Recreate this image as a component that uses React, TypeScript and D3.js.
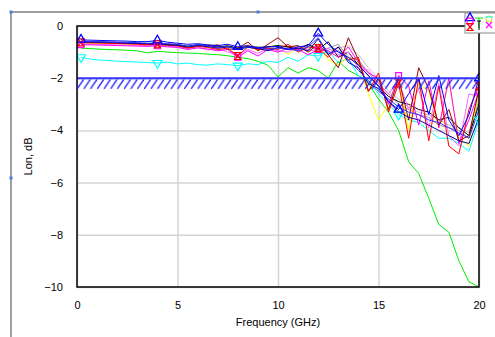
import { useEffect, useRef } from 'react';
import * as d3 from 'd3';

// frequency points (GHz)
const freqs = [0.2, 0.5, 1, 1.5, 2, 2.5, 3, 3.5, 4, 4.5, 5, 5.5, 6, 6.5, 7, 7.5, 8, 8.5, 9, 9.5, 10,
  10.5, 11, 11.5, 12, 12.5, 13, 13.5, 14, 14.5, 15, 15.5, 16, 16.5, 17, 17.5, 18, 18.5, 19, 19.5, 20];

const blue1 = [-0.52, -0.54, -0.55, -0.56, -0.57, -0.58, -0.6, -0.6, -0.55, -0.62, -0.66, -0.7, -0.68, -0.72, -0.75, -0.7, -0.8, -0.75, -0.85, -0.8, -0.78,
  -0.9, -0.8, -0.75, -0.28, -0.7, -1.0, -1.2, -1.5, -1.9, -2.3, -2.9, -3.2, -2.6, -2.0, -3.4, -1.9, -3.6, -4.2, -3.4, -2.0];
const blue2 = [-0.58, -0.59, -0.6, -0.61, -0.62, -0.63, -0.64, -0.66, -0.65, -0.68, -0.7, -0.78, -0.72, -0.76, -0.82, -0.78, -0.9, -0.8, -0.82, -0.9, -0.85,
  -0.88, -0.95, -0.8, -0.45, -1.05, -0.95, -1.3, -1.7, -2.1, -2.5, -2.8, -3.1, -3.3, -3.4, -3.6, -3.7, -3.9, -4.1, -4.3, -3.2];
const navy = [-0.6, -0.61, -0.62, -0.63, -0.64, -0.66, -0.67, -0.68, -0.7, -0.72, -0.74, -0.8, -0.75, -0.78, -0.85, -0.8, -0.88, -0.82, -0.86, -0.95, -0.82,
  -0.9, -0.85, -0.95, -0.5, -1.1, -0.8, -1.4, -1.6, -2.2, -2.4, -2.9, -3.3, -3.5, -3.6, -3.8, -4.0, -4.2, -4.4, -4.5, -3.5];
const darkred = [-0.62, -0.62, -0.63, -0.64, -0.65, -0.66, -0.67, -0.7, -0.68, -0.7, -0.72, -0.82, -0.74, -0.78, -0.72, -0.9, -0.85, -0.62, -0.95, -0.7, -0.45,
  -0.8, -0.75, -1.0, -0.7, -1.1, -1.6, -0.45, -1.3, -2.5, -2.0, -3.2, -2.0, -3.6, -1.6, -2.4, -3.8, -3.2, -4.4, -4.2, -2.4];
const red = [-0.63, -0.64, -0.65, -0.66, -0.67, -0.68, -0.7, -0.72, -0.7, -0.74, -0.76, -0.85, -0.78, -0.82, -0.9, -0.85, -1.15, -0.8, -0.9, -0.85, -0.9,
  -0.7, -1.0, -0.8, -0.85, -1.2, -0.8, -1.3, -1.2, -2.5, -1.8, -3.3, -2.2, -4.3, -2.0, -4.4, -2.3, -4.6, -4.9, -3.2, -2.3];
const magenta = [-0.72, -0.72, -0.73, -0.74, -0.75, -0.76, -0.77, -0.78, -0.76, -0.8, -0.82, -0.9, -0.84, -0.88, -0.95, -0.9, -1.2, -0.95, -1.15, -0.9, -1.0,
  -0.85, -0.9, -1.1, -0.9, -0.95, -1.2, -0.8, -1.4, -1.8, -2.0, -3.0, -1.9, -2.3, -3.8, -2.1, -3.9, -2.0, -4.5, -3.6, -2.5];
const pink = [-0.68, -0.69, -0.7, -0.71, -0.72, -0.73, -0.74, -0.76, -0.74, -0.78, -0.8, -0.86, -0.8, -0.92, -0.85, -1.0, -1.1, -0.9, -1.05, -0.85, -0.95,
  -1.0, -0.8, -0.9, -1.0, -0.85, -1.1, -1.0, -1.6, -1.7, -2.2, -2.6, -2.1, -3.2, -2.4, -3.9, -2.2, -4.2, -4.6, -2.6, -2.7];
const black = [-0.6, -0.6, -0.61, -0.62, -0.63, -0.64, -0.66, -0.68, -0.66, -0.7, -0.72, -0.78, -0.72, -0.75, -0.8, -0.76, -0.85, -0.78, -0.82, -0.8, -0.75,
  -0.8, -0.9, -0.7, -0.9, -0.6, -1.2, -1.0, -1.5, -1.9, -2.3, -2.7, -2.9, -3.0, -3.2, -3.3, -3.6, -3.5, -3.9, -4.2, -3.0];
const gray = [-0.64, -0.64, -0.65, -0.66, -0.67, -0.68, -0.69, -0.7, -0.7, -0.72, -0.74, -0.78, -0.75, -0.8, -0.82, -0.8, -0.86, -0.8, -0.84, -0.8, -0.78,
  -0.82, -0.85, -0.78, -0.95, -0.85, -0.7, -1.2, -1.3, -1.8, -2.2, -2.6, -3.0, -3.2, -3.4, -3.5, -3.8, -3.9, -4.0, -4.3, -2.8];
const silver = [-0.62, -0.63, -0.64, -0.65, -0.66, -0.67, -0.68, -0.69, -0.68, -0.7, -0.72, -0.76, -0.74, -0.78, -0.8, -0.82, -0.84, -0.82, -0.8, -0.85, -0.8,
  -0.78, -0.8, -0.85, -0.8, -0.9, -0.85, -0.75, -1.1, -1.6, -2.0, -2.5, -2.8, -3.1, -3.3, -3.4, -3.6, -3.8, -3.9, -4.1, -2.6];
const yellow = [-0.65, -0.66, -0.67, -0.68, -0.69, -0.7, -0.71, -0.73, -0.72, -0.75, -0.78, -0.82, -0.8, -0.7, -0.85, -0.75, -0.9, -0.72, -0.95, -0.8, -0.75,
  -1.1, -0.8, -0.9, -0.7, -1.3, -1.5, -1.2, -1.4, -2.6, -3.6, -3.0, -2.0, -4.0, -2.2, -2.5, -3.9, -2.1, -4.3, -4.6, -2.4];
const green = [-0.85, -0.86, -0.88, -0.9, -0.91, -0.93, -0.95, -1.03, -0.97, -1.0, -1.02, -1.04, -1.05, -1.08, -1.1, -1.14, -1.2, -1.25, -1.35, -1.5, -1.95,
  -1.6, -1.8, -1.6, -1.7, -2.0, -1.35, -1.7, -1.9, -2.2, -2.8, -3.3, -4.0, -5.2, -5.65, -6.6, -7.6, -7.9, -9.0, -9.8, -10.0];
const cyan = [-1.2, -1.25, -1.3, -1.32, -1.35, -1.37, -1.38, -1.4, -1.42, -1.38, -1.45, -1.42, -1.48, -1.5, -1.45, -1.48, -1.52, -1.45, -1.48, -1.35, -1.4,
  -1.2, -1.35, -1.1, -1.15, -0.95, -1.4, -1.25, -1.9, -2.1, -2.6, -3.0, -3.4, -3.6, -3.7, -4.0, -4.3, -4.3, -4.5, -4.8, -3.6];

const series = [
  { name: 'green', color: '#00ee00', values: green, marker: '' },
  { name: 'cyan', color: '#00ffff', values: cyan, marker: 'down' },
  { name: 'silver', color: '#c0c0c0', values: silver, marker: '' },
  { name: 'gray', color: '#999999', values: gray, marker: '' },
  { name: 'yellow', color: '#ffff00', values: yellow, marker: '' },
  { name: 'black', color: '#000000', values: black, marker: '' },
  { name: 'pink', color: '#ff66ff', values: pink, marker: '' },
  { name: 'magenta', color: '#ff00ff', values: magenta, marker: 'square' },
  { name: 'darkred', color: '#990000', values: darkred, marker: '' },
  { name: 'red', color: '#ff0000', values: red, marker: 'hourglass' },
  { name: 'navy', color: '#000099', values: navy, marker: '' },
  { name: 'blue2', color: '#3333ff', values: blue2, marker: '' },
  { name: 'blue1', color: '#0000ff', values: blue1, marker: 'up' },
];

const xTicks = [0, 5, 10, 15, 20];
const yTicks = [0, -2, -4, -6, -8, -10];
const specLimit = -2;
const specBand = -2.42;
const markerFreqs = [0.2, 4, 8, 12, 16, 20];

const W = 495;
const H = 337;

const App = () => {
  const ref = useRef<SVGSVGElement>(null);

  useEffect(() => {
    const svg = d3.select(ref.current);
    svg.selectAll('*').remove();

    const margin = { top: 26, right: 16, bottom: 50, left: 77 };
    const width = W - margin.left - margin.right;
    const height = 287 - margin.top;

    const x = d3.scaleLinear().domain([0, 20]).range([0, width]);
    const y = d3.scaleLinear().domain([-10, 0]).range([height, 0]);

    // hatch pattern for spec band
    const defs = svg.append('defs');
    const pat = defs.append('pattern')
      .attr('id', 'hatch')
      .attr('patternUnits', 'userSpaceOnUse')
      .attr('x', margin.left)
      .attr('y', margin.top + y(specLimit) + 1)
      .attr('width', 6.7)
      .attr('height', 10);
    pat.append('line')
      .attr('x1', 0).attr('y1', 10).attr('x2', 6.7).attr('y2', 0)
      .attr('stroke', '#2222ff').attr('stroke-width', 1.3);
    defs.append('clipPath').attr('id', 'plotclip')
      .append('rect').attr('width', width).attr('height', height);

    // outer frame (chart object border)
    svg.append('line').attr('x1', 10).attr('y1', 12).attr('x2', W).attr('y2', 12)
      .attr('stroke', '#808080').attr('stroke-width', 1.5);
    svg.append('line').attr('x1', 11).attr('y1', 12).attr('x2', 11).attr('y2', H)
      .attr('stroke', '#808080').attr('stroke-width', 1.5);
    [[11, 12], [258, 12], [11, 178]].forEach(([hx, hy]) => {
      svg.append('rect').attr('x', hx - 1.5).attr('y', hy - 1.5).attr('width', 3).attr('height', 3)
        .attr('fill', '#4a7fd8');
    });

    const g = svg.append('g').attr('transform', `translate(${margin.left},${margin.top})`);

    // gridlines
    g.append('g')
      .call(d3.axisBottom(x).tickValues(xTicks).tickSize(height).tickFormat(() => ''))
      .call(s => s.select('.domain').remove())
      .call(s => s.selectAll('.tick line').attr('stroke', '#d4d4d4').attr('stroke-width', 1.5));
    g.append('g')
      .call(d3.axisLeft(y).tickValues(yTicks).tickSize(-width).tickFormat(() => ''))
      .call(s => s.select('.domain').remove())
      .call(s => s.selectAll('.tick line').attr('stroke', '#d4d4d4').attr('stroke-width', 1.5));

    // tick labels
    g.append('g')
      .attr('transform', `translate(0,${height})`)
      .call(d3.axisBottom(x).tickValues(xTicks).tickSize(0).tickPadding(14))
      .call(s => s.select('.domain').remove())
      .call(s => s.selectAll('text')
        .style('font-family', 'Liberation Sans, Arial, sans-serif')
        .style('font-size', '11px')
        .attr('fill', '#000'));
    g.append('g')
      .call(d3.axisLeft(y).tickValues(yTicks).tickSize(0).tickPadding(14))
      .call(s => s.select('.domain').remove())
      .call(s => s.selectAll('text')
        .style('font-family', 'Liberation Sans, Arial, sans-serif')
        .style('font-size', '11px')
        .attr('fill', '#000'));

    // spec band
    svg.append('rect')
      .attr('x', margin.left).attr('y', margin.top + y(specLimit) + 1)
      .attr('width', width).attr('height', y(specBand) - y(specLimit) - 1)
      .attr('fill', 'url(#hatch)');

    const plot = g.append('g').attr('clip-path', 'url(#plotclip)');

    const line = d3.line<number>()
      .x((_, i) => x(freqs[i]))
      .y(d => y(d));

    series.forEach(s => {
      plot.append('path')
        .attr('d', line(s.values))
        .attr('fill', 'none')
        .attr('stroke', s.color)
        .attr('stroke-width', 1);
    });

    // markers
    const drawMarker = (sel: any, kind: string, color: string, cx: number, cy: number) => {
      if (kind === 'up') {
        sel.append('path').attr('d', d3.symbol(d3.symbolTriangle, 34)())
          .attr('transform', `translate(${cx},${cy})`)
          .attr('fill', 'none').attr('stroke', color).attr('stroke-width', 1.3);
      } else if (kind === 'down') {
        sel.append('path').attr('d', d3.symbol(d3.symbolTriangle, 34)())
          .attr('transform', `translate(${cx},${cy}) rotate(180)`)
          .attr('fill', 'none').attr('stroke', color).attr('stroke-width', 1.2);
      } else if (kind === 'square') {
        sel.append('path').attr('d', d3.symbol(d3.symbolSquare, 34)())
          .attr('transform', `translate(${cx},${cy})`)
          .attr('fill', 'none').attr('stroke', color).attr('stroke-width', 1.2);
      } else if (kind === 'hourglass') {
        sel.append('path').attr('d', 'M-3,-3.5L3,-3.5L-3,3.5L3,3.5Z')
          .attr('transform', `translate(${cx},${cy})`)
          .attr('fill', 'none').attr('stroke', color).attr('stroke-width', 1.2);
      }
    };

    series.filter(s => s.marker).forEach(s => {
      markerFreqs.forEach(f => {
        const i = freqs.indexOf(f);
        if (i < 0) return;
        drawMarker(plot, s.marker, s.color, x(freqs[i]), y(s.values[i]));
      });
    });

    // spec line
    g.append('line')
      .attr('x1', 0).attr('x2', width)
      .attr('y1', y(specLimit)).attr('y2', y(specLimit))
      .attr('stroke', '#3333ff').attr('stroke-width', 2);

    // plot frame
    g.append('rect')
      .attr('width', width).attr('height', height)
      .attr('fill', 'none').attr('stroke', '#000').attr('stroke-width', 1.5);

    // axis titles
    g.append('text')
      .attr('x', width / 2).attr('y', height + 39)
      .attr('text-anchor', 'middle')
      .style('font-family', 'Liberation Sans, Arial, sans-serif')
      .style('font-size', '11px')
      .text('Frequency (GHz)');
    g.append('text')
      .attr('transform', 'rotate(-90)')
      .attr('x', -height / 2).attr('y', -45)
      .attr('text-anchor', 'middle')
      .style('font-family', 'Liberation Sans, Arial, sans-serif')
      .style('font-size', '11px')
      .text('Lon, dB');

    // legend box (partly outside window)
    const lg = svg.append('g').attr('transform', 'translate(465,13)');
    lg.append('rect').attr('width', 40).attr('height', 20)
      .attr('fill', '#fff').attr('stroke', '#888').attr('stroke-width', 1);
    drawMarker(lg, 'up', '#0000ff', 5, 5);
    drawMarker(lg, 'square', '#ff00ff', 5, 8);
    drawMarker(lg, 'hourglass', '#ff0000', 5, 14);
    lg.append('path').attr('d', 'M10,5L18,5M14,5L14,15').attr('stroke', '#00ee00').attr('stroke-width', 1);
    lg.append('path').attr('d', 'M12,8L16,8M14,8L14,17').attr('stroke', '#000').attr('stroke-width', 1);
    lg.append('circle').attr('cx', 24).attr('cy', 6).attr('r', 3).attr('fill', 'none').attr('stroke', '#dddd00');
    lg.append('path').attr('d', 'M21,9L27,15M27,9L21,15').attr('stroke', '#ff00ff').attr('stroke-width', 1.2);
    lg.append('path').attr('d', 'M20,4L28,4').attr('stroke', '#00ffff').attr('stroke-width', 1);
  }, []);

  return (
    <svg
      ref={ref}
      width={W}
      height={H}
      style={{ position: 'absolute', left: 0, top: 0, background: '#fff' }}
    />
  );
};

export default App;
